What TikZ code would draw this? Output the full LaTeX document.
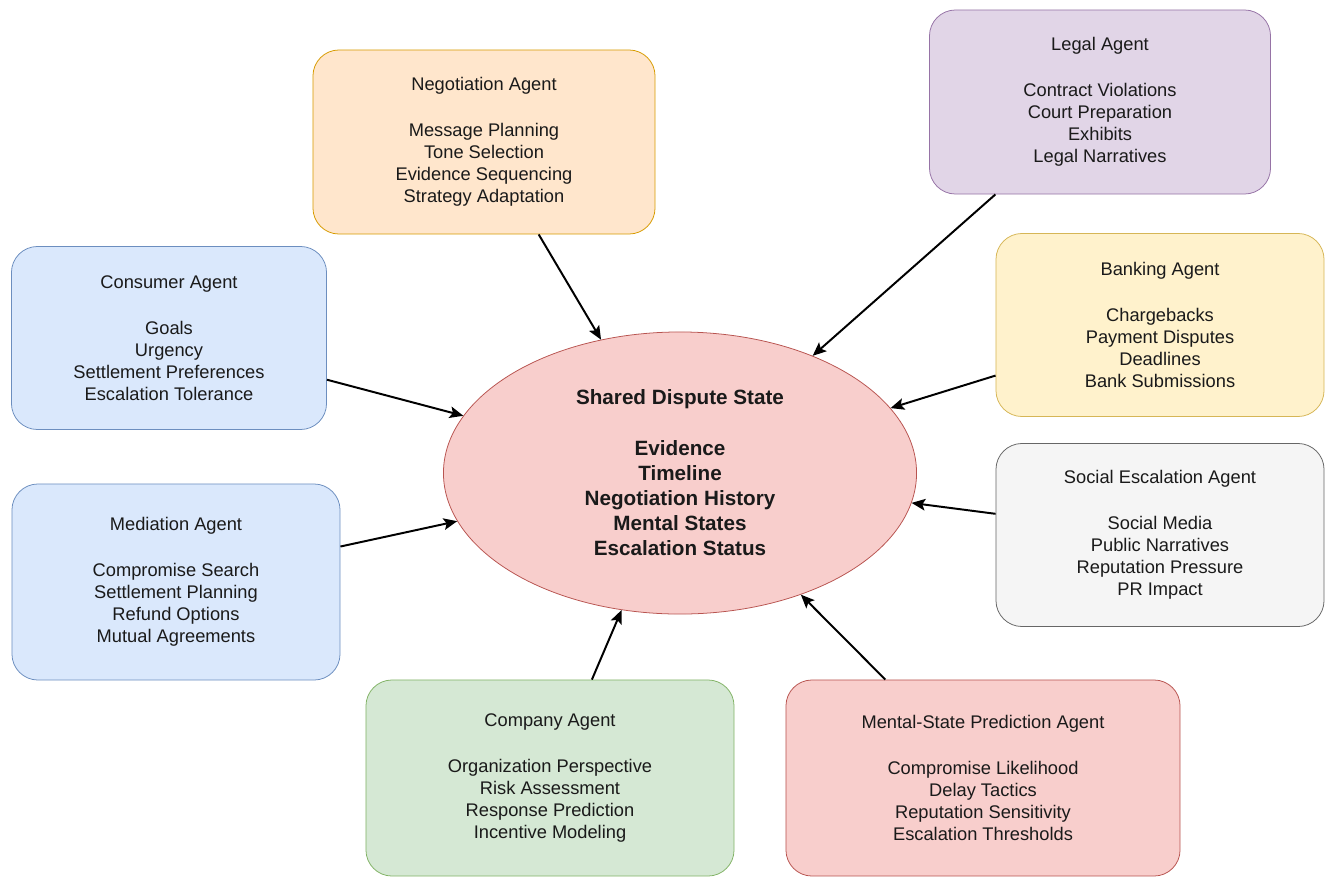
\documentclass[tikz,border=0pt]{standalone}
\usepackage{fontspec}
\setmainfont{Liberation Sans}
\usetikzlibrary{arrows.meta,positioning,shapes.geometric}
\definecolor{NegFill}{HTML}{FFE6CC}
\definecolor{NegLine}{HTML}{D79B00}
\definecolor{LegalFill}{HTML}{E1D5E7}
\definecolor{LegalLine}{HTML}{9673A6}
\definecolor{BankFill}{HTML}{FFF2CC}
\definecolor{BankLine}{HTML}{D6B656}
\definecolor{UserFill}{HTML}{DAE8FC}
\definecolor{UserLine}{HTML}{6C8EBF}
\definecolor{SocialFill}{HTML}{F5F5F5}
\definecolor{SocialLine}{HTML}{666666}
\definecolor{StateFill}{HTML}{F8CECC}
\definecolor{StateLine}{HTML}{B85450}
\definecolor{FirmFill}{HTML}{D5E8D4}
\definecolor{FirmLine}{HTML}{82B366}
\definecolor{InkText}{HTML}{1A1A1A}

\begin{document}
\begin{tikzpicture}[x=0.025cm,y=-0.025cm,
  agent/.style={rectangle,rounded corners=0.65cm,line width=0.55pt,align=center,text=InkText,
    font=\fontsize{13}{15.6}\selectfont,inner sep=2pt},
  hub/.style={ellipse,draw=StateLine,fill=StateFill,line width=0.55pt,align=center,text=InkText,
    font=\fontsize{14.7}{17.9}\selectfont\bfseries,minimum width=11.825cm,minimum height=7.05cm,inner sep=0pt},
  arrow/.style={-{Stealth[length=3.4mm,width=2.9mm,inset=0.7mm]},draw=black,line width=1.4pt}
]
\useasboundingbox (0,0) rectangle (1334,889);
\node[hub] (state) at (680,473) {Shared Dispute State\\[17.9pt]Evidence\\Timeline\\Negotiation History\\Mental States\\Escalation Status};
\node[agent,draw=NegLine,fill=NegFill,minimum width=8.55cm,minimum height=4.6cm] (negotiation) at (484,142)
  {Negotiation Agent\\[17pt]Message Planning\\Tone Selection\\Evidence Sequencing\\Strategy Adaptation};
\node[agent,draw=LegalLine,fill=LegalFill,minimum width=8.525cm,minimum height=4.6cm] (legal) at (1100,102)
  {Legal Agent\\[17pt]Contract Violations\\Court Preparation\\Exhibits\\Legal Narratives};
\node[agent,draw=UserLine,fill=UserFill,minimum width=7.875cm,minimum height=4.575cm] (consumer) at (169,338)
  {Consumer Agent\\[17pt]Goals\\Urgency\\Settlement Preferences\\Escalation Tolerance};
\node[agent,draw=BankLine,fill=BankFill,minimum width=8.2cm,minimum height=4.575cm] (banking) at (1160,325)
  {Banking Agent\\[17pt]Chargebacks\\Payment Disputes\\Deadlines\\Bank Submissions};
\node[agent,draw=UserLine,fill=UserFill,minimum width=8.2cm,minimum height=4.9cm] (mediation) at (176,582)
  {Mediation Agent\\[17pt]Compromise Search\\Settlement Planning\\Refund Options\\Mutual Agreements};
\node[agent,draw=SocialLine,fill=SocialFill,minimum width=8.2cm,minimum height=4.575cm] (social) at (1160,535)
  {Social Escalation Agent\\[17pt]Social Media\\Public Narratives\\Reputation Pressure\\PR Impact};
\node[agent,draw=FirmLine,fill=FirmFill,minimum width=9.2cm,minimum height=4.9cm] (company) at (550,778)
  {Company Agent\\[17pt]Organization Perspective\\Risk Assessment\\Response Prediction\\Incentive Modeling};
\node[agent,draw=StateLine,fill=StateFill,minimum width=9.85cm,minimum height=4.9cm] (mental) at (983,778)
  {Mental-State Prediction Agent\\[17pt]Compromise Likelihood\\Delay Tactics\\Reputation Sensitivity\\Escalation Thresholds};
\foreach \src in {negotiation,legal,consumer,banking,mediation,social,company,mental}
  \draw[arrow] (\src) -- (state);
\end{tikzpicture}
\end{document}
